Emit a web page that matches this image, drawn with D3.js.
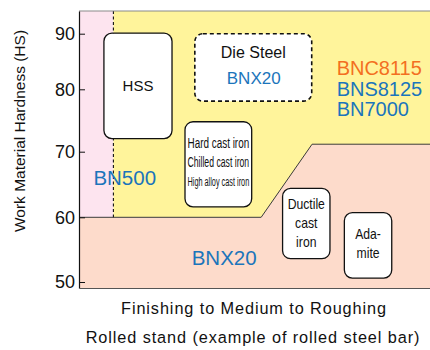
<!DOCTYPE html>
<html>
<head>
<meta charset="utf-8">
<script src="https://cdnjs.cloudflare.com/ajax/libs/d3/7.8.5/d3.min.js"></script>
<style>
  body { margin: 0; background: #fff; }
  text { font-family: "Liberation Sans", Arial, sans-serif; }
</style>
</head>
<body>
<svg id="chart" width="430" height="350"></svg>
<script>
// hardness ticks (HS) and the breakpoints of the printed (uneven) scale
const hsTicks = [50, 60, 70, 80, 90]
const hsStops = [49.1, 50, 60, 70, 80, 90, 94.2]

// cutting condition: 0 = finishing ... 100 = roughing
const zoneBN500 = [[0, 94.2], [9.8, 94.2], [9.8, 60], [0, 60]]
const zoneCBN = [[9.8, 94.2], [100, 94.2], [100, 60], [9.8, 60]]
const zoneBNX20 = [[0, 49.1], [0, 60], [51.9, 60], [66.4, 71.2], [100, 71.2], [100, 49.1]]
const bnx20Edge = [[0, 60], [51.9, 60], [66.4, 71.2], [100, 71.2]]
const bn500Limit = [[9.8, 94.2], [9.8, 60]]

// work materials: name lines, condition span, hardness span
const materialNames = [['HSS'], ['Die Steel'], ['Hard cast iron', 'Chilled cast iron', 'High alloy cast iron'], ['Ductile', 'cast', 'iron'], ['Ada-', 'mite']]
const materialPos = [[7.1, 26.5], [33.0, 66.3], [30.2, 49.2], [58.0, 71.5], [75.6, 89.1]]
const materialHS = [[72.1, 90.1], [78.1, 90], [61.6, 74.8], [53.6, 64.4], [50.6, 60.7]]

// recommended grades
const gradeNames = ['BN500', 'BNX20', 'BNX20', 'BNC8115', 'BNS8125', 'BN7000']
const gradePos = [4.1, 32.1, 42.1, 73.4, 73.4, 73.4]
const gradeHS = [64.9, 52.6, 80.9, 82.6, 79.0, 75.8]

const blue = '#1b75bb'
const orange = '#f36f21'
const gradeColor = [blue, blue, blue, orange, blue, blue]
const gradeSize = [20.5, 20.5, 17, 20, 20, 20]

// text layout inside each box: font sizes, line height, vertical shift, squeeze
const boxText = [
  { size: [15], lh: 0, dy: 0, sx: 1 },
  { size: [16], lh: 0, dy: -15, sx: 1 },
  { size: [14, 14, 12.5], lh: 19, dy: -1.5, fit: true },
  { size: [14.5, 14.5, 14.5], lh: 19, dy: 0, sx: 0.84 },
  { size: [14.5, 14.5], lh: 19, dy: -1.3, sx: 0.84 }
]

const width = 430
const height = 350

const x = d3.scaleLinear()
  .domain([0, 100])
  .range([79, width])

const y = d3.scaleLinear()
  .domain(hsStops)
  .range([288, 282, 217.3, 151.7, 89.3, 33.7, 11])

const svg = d3.select('#chart')

const area = d3.line()
  .x(d => x(d[0]))
  .y(d => y(d[1]))

const zones = [
  { pts: zoneBN500, fill: '#fde4ef' },
  { pts: zoneCBN, fill: '#fff49b' },
  { pts: zoneBNX20, fill: '#fddbcb' }
]

svg.selectAll('path.zone')
  .data(zones)
  .enter()
  .append('path')
  .attr('class', 'zone')
  .attr('d', d => area(d.pts) + 'Z')
  .attr('fill', d => d.fill)

svg.append('path')
  .attr('d', area(bnx20Edge))
  .attr('fill', 'none')
  .attr('stroke', '#3a3a3a')
  .attr('stroke-width', 1)

svg.append('path')
  .attr('d', area(bn500Limit))
  .attr('fill', 'none')
  .attr('stroke', '#111')
  .attr('stroke-width', 1.1)
  .attr('stroke-dasharray', '3,2.5')

// top frame
svg.append('line')
  .attr('x1', x(0)).attr('x2', x(100))
  .attr('y1', y(94.2)).attr('y2', y(94.2))
  .attr('stroke', '#8a8a8a')
  .attr('stroke-width', 1)

// material boxes
const boxes = materialNames.map((names, i) => ({
  names: names,
  x0: materialPos[i][0], x1: materialPos[i][1],
  lo: materialHS[i][0], hi: materialHS[i][1],
  dashed: i === 1,
  t: boxText[i]
}))

const box = svg.selectAll('g.box')
  .data(boxes)
  .enter()
  .append('g')
  .attr('class', 'box')

box.append('rect')
  .attr('x', d => x(d.x0))
  .attr('y', d => y(d.hi))
  .attr('width', d => x(d.x1) - x(d.x0))
  .attr('height', d => y(d.lo) - y(d.hi))
  .attr('rx', 8)
  .attr('fill', '#fff')
  .attr('stroke', '#111')
  .attr('stroke-width', d => d.dashed ? 1.6 : 1.3)
  .attr('stroke-dasharray', d => d.dashed ? '4,3' : null)

box.each(function (d) {
  const g = d3.select(this)
  const cx = (x(d.x0) + x(d.x1)) / 2
  const cy = (y(d.lo) + y(d.hi)) / 2 + d.t.dy
  const n = d.names.length
  const w = x(d.x1) - x(d.x0)
  d.names.forEach((s, k) => {
    const fs = d.t.size[k]
    const by = cy - (n - 1) * d.t.lh / 2 + k * d.t.lh + fs * 0.33
    const txt = g.append('text')
      .attr('text-anchor', 'middle')
      .attr('font-size', fs + 'px')
      .attr('fill', '#111')
      .text(s)
    if (d.t.fit) {
      txt.attr('x', cx).attr('y', by)
        .attr('textLength', w - 5)
        .attr('lengthAdjust', 'spacingAndGlyphs')
    } else {
      txt.attr('transform', 'translate(' + cx + ',' + by + ') scale(' + d.t.sx + ',1)')
    }
  })
})

// grade labels
svg.selectAll('text.grade')
  .data(gradeNames)
  .enter()
  .append('text')
  .attr('class', 'grade')
  .attr('x', (d, i) => x(gradePos[i]))
  .attr('y', (d, i) => y(gradeHS[i]))
  .attr('font-size', (d, i) => gradeSize[i] + 'px')
  .attr('fill', (d, i) => gradeColor[i])
  .text(d => d)

// axes
const yAxis = d3.axisLeft(y)
  .tickValues(hsTicks)
  .tickSizeInner(-6)
  .tickSizeOuter(0)
  .tickPadding(4)

svg.append('g')
  .attr('transform', 'translate(' + x(0) + ',0)')
  .call(yAxis)
  .call(g => g.select('.domain').attr('stroke', '#111').attr('stroke-width', 1.2))
  .call(g => g.selectAll('.tick line').attr('stroke', '#111'))
  .call(g => g.selectAll('.tick text')
    .attr('font-size', '18px')
    .attr('font-family', '"Liberation Sans", Arial, sans-serif')
    .attr('fill', '#111'))

svg.append('g')
  .attr('transform', 'translate(0,' + y(49.1) + ')')
  .call(d3.axisBottom(x).tickValues([]).tickSizeOuter(0))
  .call(g => g.select('.domain').attr('stroke', '#555').attr('stroke-width', 1.2))

// titles
svg.append('text')
  .attr('transform', 'translate(25,131) rotate(-90)')
  .attr('text-anchor', 'middle')
  .attr('font-size', '15.5px')
  .attr('fill', '#111')
  .text('Work Material Hardness (HS)')

svg.append('text')
  .attr('x', 254)
  .attr('y', 314)
  .attr('text-anchor', 'middle')
  .attr('font-size', '16.3px')
  .attr('letter-spacing', '0.9px')
  .attr('fill', '#111')
  .text('Finishing to Medium to Roughing')

svg.append('text')
  .attr('x', 253)
  .attr('y', 343)
  .attr('text-anchor', 'middle')
  .attr('font-size', '16.3px')
  .attr('letter-spacing', '0.9px')
  .attr('fill', '#111')
  .text('Rolled stand (example of rolled steel bar)')
</script>
</body>
</html>
